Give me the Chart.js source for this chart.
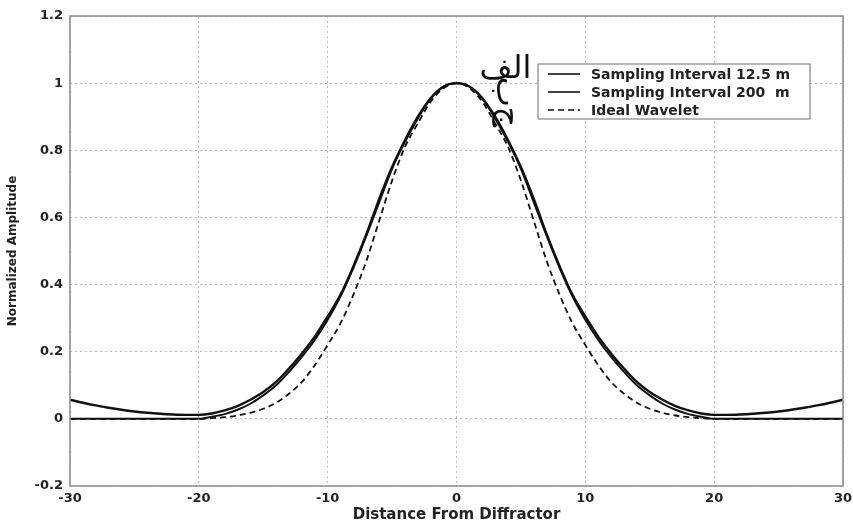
<!DOCTYPE html>
<html>
<head>
<meta charset="utf-8">
<title>Normalized Amplitude vs Distance From Diffractor</title>
<script src="https://cdn.jsdelivr.net/npm/chart.js@4.4.0/dist/chart.umd.min.js"></script>
<style>
  html, body { margin: 0; padding: 0; background: #fff; }
  #wrap { width: 853px; height: 524px; position: relative; }
</style>
</head>
<body>
<div id="wrap"><canvas id="waveletChart" width="853" height="524"></canvas></div>
<script>
// distance from diffractor (x values)
const distance = [
  -30, -29, -28, -27, -26, -25, -24, -23, -22, -21,
  -20, -19, -18, -17, -16, -15, -14, -13, -12, -11,
  -10, -9, -8, -7, -6, -5, -4, -3, -2, -1,
  0, 1, 2, 3, 4, 5, 6, 7, 8, 9,
  10, 11, 12, 13, 14, 15, 16, 17, 18, 19,
  20, 21, 22, 23, 24, 25, 26, 27, 28, 29, 30
];

// sampling interval 12.5 m
const sampling125 = [
  0, 0, 0, 0, 0, 0, 0, 0, 0, 0,
  0, 0.006, 0.014, 0.027, 0.045, 0.07, 0.10, 0.14, 0.185, 0.235,
  0.295, 0.365, 0.45, 0.545, 0.645, 0.745, 0.825, 0.895, 0.955, 0.99,
  1.0, 0.99, 0.955, 0.895, 0.825, 0.745, 0.645, 0.545, 0.45, 0.365,
  0.295, 0.235, 0.185, 0.14, 0.10, 0.07, 0.045, 0.027, 0.014, 0.006,
  0, 0, 0, 0, 0, 0, 0, 0, 0, 0, 0
];

// sampling interval 200 m
const sampling200 = [
  0.057, 0.048, 0.040, 0.033, 0.027, 0.022, 0.018, 0.015, 0.013, 0.012,
  0.012, 0.016, 0.025, 0.038, 0.057, 0.08, 0.11, 0.15, 0.195, 0.245,
  0.305, 0.37, 0.455, 0.55, 0.655, 0.75, 0.83, 0.90, 0.955, 0.99,
  1.0, 0.99, 0.955, 0.90, 0.83, 0.75, 0.655, 0.55, 0.455, 0.37,
  0.305, 0.245, 0.195, 0.15, 0.11, 0.08, 0.057, 0.038, 0.025, 0.016,
  0.012, 0.012, 0.013, 0.015, 0.018, 0.022, 0.027, 0.033, 0.040, 0.048, 0.057
];

// ideal wavelet
const idealWavelet = [
  0, 0, 0, 0, 0, 0, 0, 0, 0, 0,
  0, 0.002, 0.005, 0.01, 0.018, 0.03, 0.048, 0.075, 0.11, 0.16,
  0.22, 0.285, 0.37, 0.47, 0.59, 0.71, 0.81, 0.88, 0.945, 0.985,
  1.0, 0.985, 0.945, 0.88, 0.81, 0.71, 0.59, 0.47, 0.37, 0.285,
  0.22, 0.16, 0.11, 0.075, 0.048, 0.03, 0.018, 0.01, 0.005, 0.002,
  0, 0, 0, 0, 0, 0, 0, 0, 0, 0, 0
];

const seriesLabels = ['Sampling Interval 12.5 m', 'Sampling Interval 200  m', 'Ideal Wavelet'];
const xTicks = [-30, -20, -10, 0, 10, 20, 30];
const yTicks = [-0.2, 0, 0.2, 0.4, 0.6, 0.8, 1, 1.2];
const annotationLines = ['الف', 'ب', 'ج'];

function toPoints(values) {
  return values.map((v, i) => ({ x: distance[i], y: v }));
}

const FONT = '"DejaVu Sans", "Liberation Sans", Arial, sans-serif';
Chart.defaults.font.family = FONT;
Chart.defaults.font.weight = 'bold';
Chart.defaults.color = '#222';

// gray box round the plot area
const frameBox = {
  id: 'frameBox',
  afterDraw(chart) {
    const { ctx, chartArea: a } = chart;
    ctx.save();
    ctx.strokeStyle = '#8a8a8a';
    ctx.lineWidth = 1.5;
    ctx.strokeRect(a.left, a.top, a.right - a.left, a.bottom - a.top);
    ctx.restore();
  }
};

// legend box drawn inside the plot, top right
const boxLegend = {
  id: 'boxLegend',
  afterDraw(chart) {
    const { ctx, chartArea: a } = chart;
    const left = a.left + 468, top = a.top + 48, w = 272, h = 55;
    ctx.save();
    ctx.fillStyle = '#fff';
    ctx.fillRect(left, top, w, h);
    ctx.strokeStyle = '#888';
    ctx.lineWidth = 1.2;
    ctx.strokeRect(left, top, w, h);
    ctx.font = 'bold 14px ' + FONT;
    ctx.textBaseline = 'middle';
    chart.data.datasets.forEach((ds, i) => {
      const y = top + 10 + i * 18;
      ctx.strokeStyle = ds.borderColor;
      ctx.lineWidth = 1.6;
      ctx.setLineDash(ds.borderDash || []);
      ctx.beginPath();
      ctx.moveTo(left + 10, y);
      ctx.lineTo(left + 42, y);
      ctx.stroke();
      ctx.setLineDash([]);
      ctx.fillStyle = '#222';
      ctx.fillText(ds.label, left + 53, y + 1);
    });
    ctx.restore();
  }
};

// Arabic letters next to the peak
const arabicNote = {
  id: 'arabicNote',
  afterDraw(chart) {
    const { ctx } = chart;
    const xs = chart.scales.x, ys = chart.scales.y;
    const cx = xs.getPixelForValue(3.8);
    const cy = ys.getPixelForValue(1.04);
    ctx.save();
    ctx.fillStyle = '#111';
    ctx.textAlign = 'center';
    ctx.textBaseline = 'middle';
    ctx.font = '32px "DejaVu Sans", "Noto Sans", sans-serif';
    ctx.fillText(annotationLines[0], cx, cy);
    annotationLines.slice(1).forEach((t, i) => {
      ctx.save();
      ctx.translate(cx + i * 3, cy + 22 + i * 25);
      ctx.rotate(Math.PI / 2);
      ctx.fillText(t, 0, 0);
      ctx.restore();
    });
    ctx.restore();
  }
};

const ctx = document.getElementById('waveletChart').getContext('2d');
new Chart(ctx, {
  type: 'line',
  data: {
    datasets: [
      {
        label: seriesLabels[0],
        data: toPoints(sampling125),
        borderColor: '#111',
        borderWidth: 2,
        pointRadius: 0,
        cubicInterpolationMode: 'monotone'
      },
      {
        label: seriesLabels[1],
        data: toPoints(sampling200),
        borderColor: '#111',
        borderWidth: 2.4,
        pointRadius: 0,
        cubicInterpolationMode: 'monotone'
      },
      {
        label: seriesLabels[2],
        data: toPoints(idealWavelet),
        borderColor: '#111',
        borderWidth: 1.8,
        borderDash: [6, 4],
        pointRadius: 0,
        cubicInterpolationMode: 'monotone'
      }
    ]
  },
  options: {
    responsive: false,
    animation: false,
    layout: { padding: { top: 16, right: 0, left: 0, bottom: 0 } },
    plugins: {
      legend: { display: false },
      tooltip: { enabled: false }
    },
    scales: {
      x: {
        type: 'linear',
        min: -30,
        max: 30,
        afterBuildTicks: (scale) => { scale.ticks = xTicks.map(v => ({ value: v })); },
        afterFit: (scale) => { scale.height = 38; scale.paddingRight = 10; },
        ticks: { font: { size: 13 }, padding: 5, maxRotation: 0 },
        grid: { color: '#b8b8b8', lineWidth: 1, drawTicks: false },
        border: { display: false, dash: [2, 3] },
        title: { display: true, text: 'Distance From Diffractor', font: { size: 15 }, padding: 0 }
      },
      y: {
        min: -0.2,
        max: 1.2,
        afterBuildTicks: (scale) => { scale.ticks = yTicks.map(v => ({ value: v })); },
        afterFit: (scale) => { scale.width = 70; },
        ticks: {
          font: { size: 13 },
          padding: 7,
          callback: (v) => String(Number(v.toFixed(1)))
        },
        grid: { color: '#b8b8b8', lineWidth: 1, drawTicks: false },
        border: { display: false, dash: [2, 3] },
        title: { display: true, text: 'Normalized Amplitude', font: { size: 12 }, padding: { top: 6, bottom: 0 } }
      }
    }
  },
  plugins: [frameBox, boxLegend, arabicNote]
});
</script>
</body>
</html>
